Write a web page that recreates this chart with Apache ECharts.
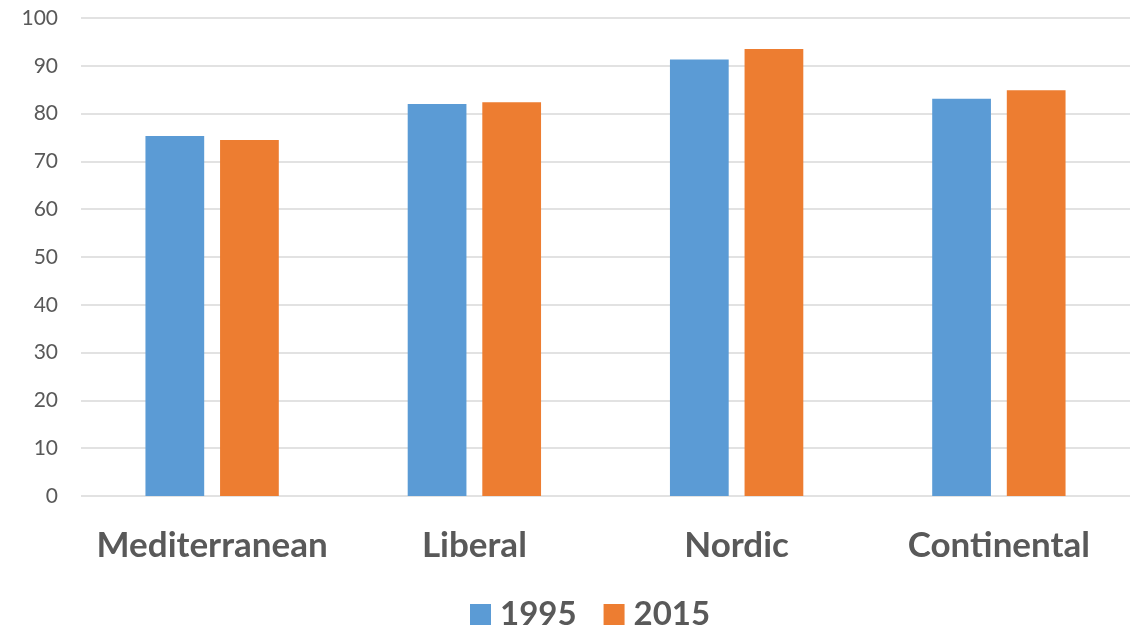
<!DOCTYPE html>
<html><head><meta charset="utf-8">
<script src="https://cdn.jsdelivr.net/npm/echarts@6/dist/echarts.min.js"></script>
<style>html,body{margin:0;padding:0;background:#fff}#c{width:1140px;height:629px}</style>
</head><body><div id="c"></div>
<script>
const categories = ['Mediterranean', 'Liberal', 'Nordic', 'Continental'];
const values1995 = [75.3, 82.0, 91.3, 83.1];
const values2015 = [74.5, 82.4, 93.5, 84.9];
const seriesNames = ['1995', '2015'];

const chart = echarts.init(document.getElementById('c'));
const font = 'Lato';
chart.setOption({
  animation: false,
  color: ['#5B9BD5', '#ED7D31'],
  grid: {left: 81, right: 10, top: 18, bottom: 133},
  legend: {
    top: 593, left: 465,
    itemWidth: 21, itemHeight: 21, itemGap: 27,
    icon: 'rect',
    textStyle: {fontFamily: font, fontWeight: 'bold', fontSize: 33, color: '#595959', padding: [0, 0, 0, 4]},
    data: seriesNames
  },
  xAxis: {
    type: 'category', data: categories,
    axisLine: {show: false}, axisTick: {show: false},
    axisLabel: {interval: 0, fontFamily: font, fontWeight: 'bold', fontSize: 35, color: '#595959', margin: 32}
  },
  yAxis: {
    type: 'value', min: 0, max: 100, interval: 10,
    axisLine: {show: false}, axisTick: {show: false},
    splitLine: {lineStyle: {color: '#D9D9D9', width: 1.5}},
    axisLabel: {fontFamily: font, fontSize: 21, color: '#595959', margin: 23}
  },
  series: [
    {name: seriesNames[0], type: 'bar', data: values1995, barWidth: '22.4%', barGap: '27%'},
    {name: seriesNames[1], type: 'bar', data: values2015, barWidth: '22.4%', barGap: '27%'}
  ]
});
</script></body></html>
